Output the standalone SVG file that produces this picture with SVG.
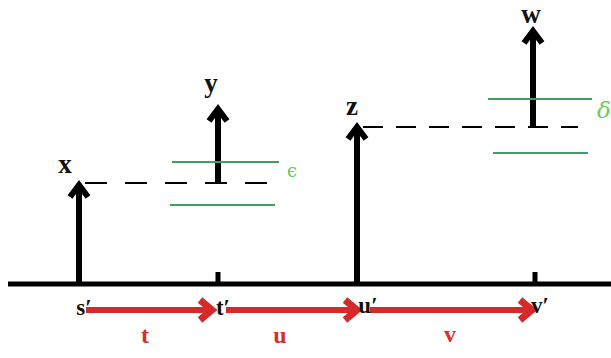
<svg xmlns="http://www.w3.org/2000/svg" width="611" height="358" viewBox="0 0 611 358">
<style>
.ax{stroke:#000;stroke-width:5;fill:none}
.shaft{stroke:#000;stroke-width:6;fill:none}
.head{stroke:#000;stroke-width:6;fill:none;stroke-linejoin:miter;stroke-linecap:butt}
.dash{stroke:#000;stroke-width:2;fill:none}
.band{stroke:#3f9f5f;stroke-width:2;fill:none}
.lbl{font-family:"Liberation Serif","DejaVu Serif",serif;font-weight:bold;font-size:27px;fill:#111;text-anchor:middle}
.pt{font-family:"Liberation Serif","DejaVu Serif",serif;font-weight:bold;font-size:23px;fill:#111;text-anchor:middle}
.red{stroke:#d42a2a;stroke-width:6;fill:none}
.rhead{stroke:#d42a2a;stroke-width:7;fill:none;stroke-linejoin:miter}
.rl{font-family:"Liberation Serif","DejaVu Serif",serif;font-weight:bold;font-size:24px;fill:#d43030;text-anchor:middle}
.gk{font-family:"DejaVu Serif","Liberation Serif",serif;fill:#66cc55}
</style>
<rect width="611" height="358" fill="#fff"/>
<g id="axis">
<line class="ax" x1="8" y1="284" x2="611" y2="284"/>
<line class="ax" x1="218" y1="272" x2="218" y2="284"/>
<line class="ax" x1="535" y1="272" x2="535" y2="284"/>
</g>
<g id="node-x">
<line class="shaft" x1="79" y1="284" x2="79" y2="186"/>
<polyline class="head" points="70,197 79,185 88,197"/>
<text class="lbl" x="65" y="173">x</text>
</g>
<g id="node-y">
<line class="shaft" x1="218" y1="184" x2="218" y2="110"/>
<polyline class="head" points="209,121 218,109 227,121"/>
<text class="lbl" x="211" y="92">y</text>
</g>
<g id="node-z">
<line class="shaft" x1="357" y1="284" x2="357" y2="128"/>
<polyline class="head" points="348,139 357,127 366,139"/>
<text class="lbl" x="352" y="115">z</text>
</g>
<g id="node-w">
<line class="shaft" x1="533" y1="128" x2="533" y2="32"/>
<polyline class="head" points="524,43 533,31 542,43"/>
<text class="lbl" x="531" y="23" font-size="22">w</text>
</g>
<g id="epsilon-band">
<line class="dash" x1="85" y1="183" x2="282" y2="183" stroke-dasharray="22 18"/>
<line class="band" x1="172" y1="162" x2="279" y2="162"/>
<line class="band" x1="170" y1="205" x2="275" y2="205"/>
<text class="gk" x="292" y="177" font-size="18" text-anchor="middle">ϵ</text>
</g>
<g id="delta-band">
<line class="dash" x1="363" y1="127" x2="578" y2="127" stroke-dasharray="20 13"/>
<line class="band" x1="488" y1="99" x2="592" y2="99"/>
<line class="band" x1="493" y1="153" x2="588" y2="153"/>
<text class="gk" x="597" y="118" font-size="23" font-style="italic">δ</text>
</g>
<g id="connectors">
<line class="red" x1="86" y1="310" x2="211" y2="310"/>
<polyline class="rhead" points="200,300 212,310 200,320"/>
<line class="red" x1="226" y1="310" x2="356" y2="310"/>
<polyline class="rhead" points="345,300 357,310 345,320"/>
<line class="red" x1="370" y1="310" x2="531" y2="310"/>
<polyline class="rhead" points="520,300 532,310 520,320"/>
</g>
<g id="points">
<text class="pt" x="84" y="315">s′</text>
<text class="pt" x="223" y="315">t′</text>
<text class="pt" x="368" y="313">u′</text>
<text class="pt" x="540" y="313">v′</text>
</g>
<g id="interval-labels">
<text class="rl" x="145" y="343">t</text>
<text class="rl" x="280" y="343">u</text>
<text class="rl" x="450" y="342">v</text>
</g>
</svg>
